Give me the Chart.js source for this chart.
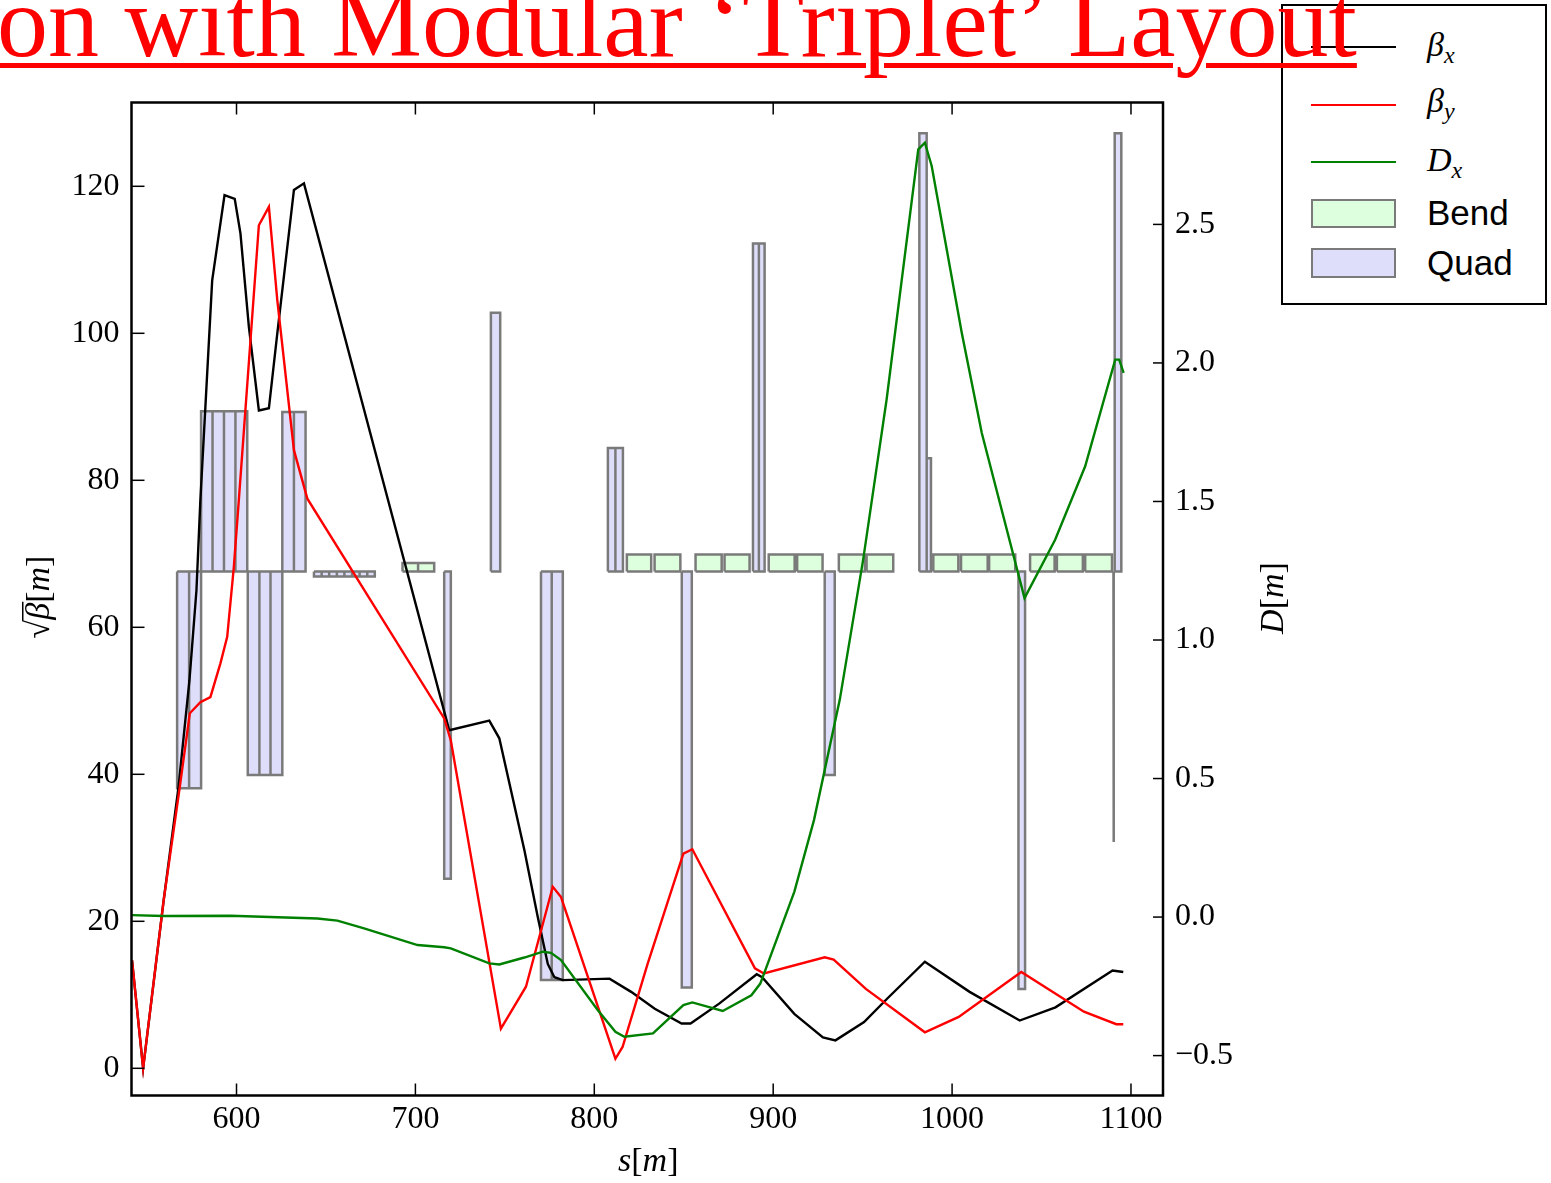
<!DOCTYPE html>
<html>
<head>
<meta charset="utf-8">
<script src="https://cdn.jsdelivr.net/npm/chart.js@4.4.0/dist/chart.umd.min.js"></script>
<style>
  html, body { margin: 0; padding: 0; background: #fff; }
  #wrap { position: relative; width: 1551px; height: 1183px; overflow: hidden; background: #fff; }
  #plot { position: absolute; left: 0; top: 0; }
  #title {
    position: absolute; left: -3px; top: -29px; z-index: 3;
    font: 102px/102px "Liberation Serif", serif; color: #f00; white-space: nowrap;
    text-decoration: underline; text-decoration-thickness: 5px; text-underline-offset: 7px;
  }
  #legend {
    position: absolute; left: 1281px; top: 4px; width: 262px; height: 297px; z-index: 2;
    border: 2.5px solid #000; background: #fff;
  }
  #legend .ln { position: absolute; left: 28px; width: 85px; height: 2px; }
  #legend .patch { position: absolute; left: 28px; width: 85px; box-sizing: border-box; border: 2.5px solid #7a7a7a; }
  #legend .lab { position: absolute; left: 144px; white-space: nowrap; color: #000; }
  #legend .math { font: italic 34px/34px "Liberation Serif", serif; }
  #legend .sans { font: 35px/35px "Liberation Sans", sans-serif; }
  #legend .sub { font-size: 24px; position: relative; top: 7px; }
</style>
</head>
<body>
<div id="wrap">
  <canvas id="plot" width="1551" height="1183"></canvas>
  <div id="title">on with Modular ‘Triplet’ Layout</div>
  <div id="legend">
    <div class="ln" style="top:40px;background:#000"></div>
    <div class="lab math" style="top:22px">β<span class="sub">x</span></div>
    <div class="ln" style="top:98px;background:#f00"></div>
    <div class="lab math" style="top:78px">β<span class="sub">y</span></div>
    <div class="ln" style="top:155px;background:#008000"></div>
    <div class="lab math" style="top:137px">D<span class="sub">x</span></div>
    <div class="patch" style="top:193px;height:29px;background:#ddffdd"></div>
    <div class="lab sans" style="top:189px">Bend</div>
    <div class="patch" style="top:242px;height:30px;background:#dedefa"></div>
    <div class="lab sans" style="top:239px">Quad</div>
  </div>
</div>
<script>
// tick labels
const sTicks = [600, 700, 800, 900, 1000, 1100];
const rootBetaTicks = [0, 20, 40, 60, 80, 100, 120];
const dispTicks = [-0.5, 0, 0.5, 1, 1.5, 2, 2.5];

// sqrt(beta_x) along s
const betaXs = [541.6, 547.8, 559.3, 567.5, 573.7, 577.6, 579.8, 586.4, 593.3, 599.0, 602.2, 606.9, 612.5, 618.1, 622.8, 632.1, 637.7,
  718.9, 741.3, 746.9, 760.9, 768.4, 774.0, 777.7, 782.4, 808.5, 820.6, 833.8, 848.8, 853.8, 869.8, 890.8, 893.8, 911.8, 927.8,
  934.8, 950.8, 963.8, 984.8, 1009.8, 1037.8, 1057.8, 1089.7, 1095.7];
const betaXv = [14.7, 0.0, 22.9, 38.1, 52.8, 65.0, 77.3, 107.2, 118.8, 118.3, 113.6, 100.9, 89.5, 89.8, 100.0, 119.5, 120.4,
  46.0, 47.3, 44.9, 29.7, 20.6, 14.2, 12.4, 12.0, 12.2, 10.4, 8.1, 6.1, 6.1, 8.8, 12.8, 12.4, 7.4, 4.2,
  3.8, 6.3, 9.5, 14.5, 10.4, 6.5, 8.3, 13.3, 13.1];

// sqrt(beta_y) along s
const betaYs = [541.6, 547.8, 559.3, 568.3, 573.9, 579.8, 585.4, 591.0, 594.8, 598.5, 601.3, 612.5, 618.1, 622.8, 632.1, 639.6,
  716.1, 719.8, 747.8, 761.8, 776.8, 781.4, 811.8, 815.8, 829.8, 849.8, 854.8, 889.8, 894.8, 928.8, 933.8, 951.8, 984.8,
  1003.7, 1038.7, 1073.7, 1091.8, 1095.7];
const betaYv = [14.7, 0.0, 22.9, 38.3, 48.3, 49.8, 50.5, 55.1, 58.7, 68.2, 77.3, 114.7, 117.2, 104.5, 84.1, 77.5,
  47.6, 44.6, 5.4, 11.1, 24.7, 23.3, 1.3, 2.9, 14.2, 29.2, 29.8, 13.6, 12.9, 15.1, 14.8, 10.8, 4.9,
  7.0, 13.1, 7.7, 6.0, 6.0];

// horizontal dispersion D_x along s
const dispS = [541.3, 559.3, 596.6, 645.2, 656.4, 671.3, 701.2, 716.1, 719.8, 741.3, 746.9, 760.9, 771.2, 775.8, 781.4, 802.0,
  811.8, 816.8, 832.8, 849.8, 854.8, 871.8, 887.8, 892.8, 911.8, 922.8, 937.2, 950.3, 963.4, 981.1, 984.8, 988.6, 1005.4,
  1016.6, 1040.5, 1057.6, 1074.4, 1091.2, 1093.4, 1095.9];
const dispV = [0.007, 0.004, 0.005, -0.005, -0.013, -0.041, -0.101, -0.109, -0.113, -0.167, -0.171, -0.146, -0.125, -0.129, -0.155, -0.336,
  -0.414, -0.432, -0.420, -0.318, -0.308, -0.339, -0.282, -0.240, 0.091, 0.350, 0.784, 1.290, 1.868, 2.771, 2.795, 2.711, 2.109,
  1.747, 1.151, 1.362, 1.627, 2.012, 2.012, 1.964];

// lattice elements, drawn from the base line to their level
const elemBase = 67.6;
const quadStart = [566.8, 573.5, 580.2, 586.6, 593.0, 599.4, 606.3, 612.8, 619.0, 625.6, 632.1,
  643.3, 647.6, 651.8, 656.1, 660.3, 664.6, 668.8, 673.1,
  716.1, 742.2, 770.2, 776.2, 807.6, 811.8, 848.9, 888.7, 892.0, 928.8, 981.7, 985.8, 1037.1, 1090.2, 1090.9];
const quadEnd = [573.5, 580.2, 586.6, 593.0, 599.4, 606.0, 612.8, 619.0, 625.6, 632.1, 638.6,
  647.6, 651.8, 656.1, 660.3, 664.6, 668.8, 673.1, 677.3,
  719.8, 747.4, 776.2, 782.4, 811.8, 816.0, 854.5, 892.0, 895.2, 934.4, 985.8, 988.2, 1040.8, 1090.5, 1094.6];
const quadLevel = [38.1, 38.1, 89.4, 89.4, 89.4, 89.4, 39.9, 39.9, 39.9, 89.3, 89.3,
  66.9, 66.9, 66.9, 66.9, 66.9, 66.9, 66.9, 66.9,
  25.8, 102.8, 12.0, 12.0, 84.4, 84.4, 11.0, 112.2, 112.2, 39.9, 127.2, 83.0, 10.8, 30.8, 127.2];

const bendStart = [692.8, 701.5, 818.2, 833.7, 856.6, 872.8, 897.5, 913.4, 936.7, 952.2, 989.5, 1005.0, 1020.7, 1043.6, 1058.6, 1074.4];
const bendEnd = [701.5, 710.5, 831.8, 848.1, 871.2, 886.8, 912.0, 927.6, 951.3, 967.1, 1003.5, 1019.9, 1035.3, 1057.3, 1073.1, 1089.4];
const bendLevel = [68.75, 68.75, 69.9, 69.9, 69.9, 69.9, 69.9, 69.9, 69.9, 69.9, 69.9, 69.9, 69.9, 69.9, 69.9, 69.9];

function pairs(xs, ys) {
  return xs.map((x, i) => ({x: x, y: ys[i]}));
}

// each element becomes a closed outline; a null point separates them
function outlines(start, end, level) {
  const pts = [];
  start.forEach((s0, i) => {
    const s1 = end[i];
    pts.push({x: s0, y: elemBase}, {x: s0, y: level[i]}, {x: s1, y: level[i]},
      {x: s1, y: elemBase}, {x: s0, y: elemBase}, {x: s0, y: null});
  });
  return pts;
}

const serif = '"Liberation Serif", serif';

function drawRuns(ctx, runs, x, y, angle) {
  ctx.save();
  ctx.translate(x, y);
  ctx.rotate(angle);
  ctx.fillStyle = '#000';
  ctx.strokeStyle = '#000';
  ctx.textBaseline = 'alphabetic';
  let w = 0;
  runs.forEach(r => { ctx.font = r.font; r.w = ctx.measureText(r.text).width; w += r.w; });
  let pos = -w / 2;
  let rootTop = 0;
  runs.forEach(r => {
    ctx.font = r.font;
    ctx.fillText(r.text, pos, 0);
    if (r.root) rootTop = -ctx.measureText(r.text).actualBoundingBoxAscent;
    if (r.over) {
      ctx.lineWidth = 1.5;
      ctx.beginPath();
      ctx.moveTo(pos - 1, rootTop + 0.75);
      ctx.lineTo(pos + r.w + 1, rootTop + 0.75);
      ctx.stroke();
    }
    pos += r.w;
  });
  ctx.restore();
}

const frame = {
  id: 'frame',
  afterDraw(chart) {
    const {ctx, chartArea: a, scales} = chart;
    ctx.save();
    ctx.strokeStyle = '#000';
    ctx.lineWidth = 1.5;
    const seg = (x0, y0, x1, y1) => { ctx.beginPath(); ctx.moveTo(x0, y0); ctx.lineTo(x1, y1); ctx.stroke(); };
    scales.x.ticks.forEach(t => {
      const px = scales.x.getPixelForValue(t.value);
      seg(px, a.bottom, px, a.bottom - 12);
      seg(px, a.top, px, a.top + 12);
    });
    scales.y.ticks.forEach(t => {
      const py = scales.y.getPixelForValue(t.value);
      seg(a.left, py, a.left + 13, py);
    });
    scales.y1.ticks.forEach(t => {
      const py = scales.y1.getPixelForValue(t.value);
      seg(a.right, py, a.right - 10, py);
    });
    ctx.lineWidth = 2.5;
    ctx.strokeRect(a.left, a.top, a.width, a.height);
    ctx.restore();

    const it = 'italic 34px ' + serif;
    const up = '34px ' + serif;
    drawRuns(ctx, [{text: 's', font: it}, {text: '[', font: up}, {text: 'm', font: it}, {text: ']', font: up}],
      (a.left + a.right) / 2 + 1, 1171, 0);
    drawRuns(ctx, [{text: '√', font: up, root: true}, {text: 'β', font: it, over: true}, {text: '[', font: up},
      {text: 'm', font: it}, {text: ']', font: up}], 49, 597, -Math.PI / 2);
    drawRuns(ctx, [{text: 'D', font: it}, {text: '[', font: up}, {text: 'm', font: it}, {text: ']', font: up}],
      1283, 598, -Math.PI / 2);
  }
};

const tickFont = {family: serif, size: 32};

new Chart(document.getElementById('plot'), {
  type: 'line',
  data: {
    datasets: [
      {label: 'βx', data: pairs(betaXs, betaXv), borderColor: '#000000', yAxisID: 'y', order: 2},
      {label: 'βy', data: pairs(betaYs, betaYv), borderColor: '#ff0000', yAxisID: 'y', order: 1},
      {label: 'Dx', data: pairs(dispS, dispV), borderColor: '#008000', yAxisID: 'y1', order: 0},
      {label: 'Bend', data: outlines(bendStart, bendEnd, bendLevel), borderColor: '#7a7a7a',
        backgroundColor: '#ddffdd', borderWidth: 2.5, fill: 'shape', yAxisID: 'y', order: 3},
      {label: 'Quad', data: outlines(quadStart, quadEnd, quadLevel), borderColor: '#7a7a7a',
        backgroundColor: '#dedefa', borderWidth: 2.5, fill: 'shape', yAxisID: 'y', order: 3}
    ]
  },
  options: {
    responsive: false,
    animation: false,
    devicePixelRatio: 1,
    events: [],
    layout: {padding: {top: 102.5, left: 0, right: 0, bottom: 0}},
    elements: {
      line: {borderWidth: 2.4, tension: 0, borderJoinStyle: 'miter'},
      point: {radius: 0}
    },
    plugins: {legend: {display: false}, tooltip: {enabled: false}},
    scales: {
      x: {
        type: 'linear', position: 'bottom', min: 541.3, max: 1117.9,
        grid: {display: false, drawTicks: false}, border: {display: false},
        afterBuildTicks: s => { s.ticks = sTicks.map(v => ({value: v})); },
        afterFit: s => { s.height = 87.5; },
        ticks: {font: tickFont, color: '#000', padding: 5, maxRotation: 0, autoSkip: false, callback: v => String(v)}
      },
      y: {
        type: 'linear', position: 'left', min: -3.7, max: 131.4,
        grid: {display: false, drawTicks: false}, border: {display: false},
        afterBuildTicks: s => { s.ticks = rootBetaTicks.map(v => ({value: v})); },
        afterFit: s => { s.width = 131.5; },
        ticks: {font: tickFont, color: '#000', padding: 12, autoSkip: false, callback: v => String(v)}
      },
      y1: {
        type: 'linear', position: 'right', min: -0.644, max: 2.94,
        grid: {display: false, drawTicks: false}, border: {display: false},
        afterBuildTicks: s => { s.ticks = dispTicks.map(v => ({value: v})); },
        afterFit: s => { s.width = 388; },
        ticks: {font: tickFont, color: '#000', padding: 12, autoSkip: false,
          callback: v => (v < 0 ? '\u2212' : '') + Math.abs(v).toFixed(1)}
      }
    }
  },
  plugins: [frame]
});
</script>
</body>
</html>
